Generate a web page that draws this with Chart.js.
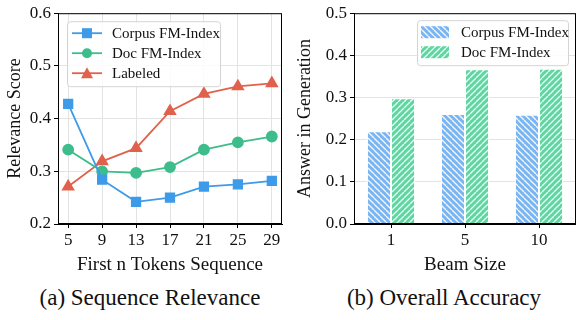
<!DOCTYPE html>
<html lang="en">
<head>
  <meta charset="UTF-8" />
  <title>Sequence Relevance and Overall Accuracy</title>
  <script src="https://cdn.jsdelivr.net/npm/chart.js"></script>
  <style>
    body { margin: 0; background: #fff; width: 576px; height: 320px; position: relative; overflow: hidden; font-family: "Liberation Serif", serif; }
    .panel { position: absolute; top: 0; height: 280px; }
    .caption { position: absolute; top: 285px; font-size: 23px; text-align: center; color: #111; }
  </style>
</head>
<body>
  <div class="panel" style="left:0; width:290px;"><canvas id="relChart"></canvas></div>
  <div class="panel" style="left:290px; width:286px;"><canvas id="accChart"></canvas></div>
  <div class="caption" style="left:0; width:300px;">(a) Sequence Relevance</div>
  <div class="caption" style="left:290px; width:308px;">(b) Overall Accuracy</div>

  <script>
    // left panel: relevance vs first n tokens
    const tokenSteps = [5, 9, 13, 17, 21, 25, 29];
    const corpusRel = [0.428, 0.284, 0.242, 0.250, 0.271, 0.275, 0.282];
    const docRel = [0.341, 0.300, 0.297, 0.308, 0.341, 0.355, 0.366];
    const labeledRel = [0.271, 0.319, 0.344, 0.414, 0.447, 0.461, 0.467];

    // right panel: answer in generation vs beam size
    const beamSizes = ["1", "5", "10"];
    const corpusAcc = [0.220, 0.261, 0.259];
    const docAcc = [0.298, 0.367, 0.368];

    const FONT = "'Liberation Serif', 'Times New Roman', Times, serif";
    const BLUE = "#3d9be9", GREEN = "#3dbd8c", RED = "#e0624c";

    Chart.defaults.font.family = FONT;
    Chart.defaults.color = "#111";
    Chart.defaults.animation = false;

    function hatch(base, dir) {
      const s = 6;
      const c = document.createElement("canvas");
      c.width = s; c.height = s;
      const g = c.getContext("2d");
      g.fillStyle = base;
      g.fillRect(0, 0, s, s);
      g.strokeStyle = "rgba(255,255,255,0.9)";
      g.lineWidth = 1.3;
      for (let k = -1; k <= 1; k++) {
        g.beginPath();
        if (dir === "\\") { g.moveTo(k * s, 0); g.lineTo(k * s + s, s); }
        else { g.moveTo(k * s, s); g.lineTo(k * s + s, 0); }
        g.stroke();
      }
      return g.createPattern(c, "repeat");
    }

    const boxPlugin = {
      id: "box",
      afterDraw(chart) {
        const { ctx, chartArea: a } = chart;
        ctx.save();
        ctx.strokeStyle = "#000";
        ctx.lineWidth = 1;
        ctx.strokeRect(a.left + 0.5, a.top + 0.5, a.right - a.left - 1, a.bottom - a.top - 1);
        ctx.restore();
      }
    };

    // legend box drawn inside the plot area
    function legendPlugin(items, opt) {
      return {
        id: "innerLegend",
        afterDraw(chart) {
          const { ctx, chartArea: a } = chart;
          const x0 = opt.right ? a.right - opt.dx - opt.w : a.left + opt.dx;
          const y0 = a.top + opt.dy;
          ctx.save();
          ctx.fillStyle = "rgba(255,255,255,0.85)";
          ctx.strokeStyle = "#d4d4d4";
          ctx.lineWidth = 1;
          ctx.beginPath();
          ctx.roundRect(x0 + 0.5, y0 + 0.5, opt.w, opt.h, 3);
          ctx.fill(); ctx.stroke();
          ctx.font = "15px " + FONT;
          ctx.textBaseline = "middle";
          items.forEach((it, i) => {
            const y = y0 + 12 + i * 20;
            if (it.type === "line") {
              ctx.strokeStyle = it.color; ctx.lineWidth = 1.8;
              ctx.beginPath(); ctx.moveTo(x0 + 5, y); ctx.lineTo(x0 + 35, y); ctx.stroke();
              ctx.fillStyle = it.color;
              const cx = x0 + 20;
              ctx.beginPath();
              if (it.marker === "rect") ctx.rect(cx - 5, y - 5, 10, 10);
              else if (it.marker === "circle") ctx.arc(cx, y, 5, 0, Math.PI * 2);
              else { ctx.moveTo(cx, y - 6); ctx.lineTo(cx + 6, y + 5); ctx.lineTo(cx - 6, y + 5); ctx.closePath(); }
              ctx.fill();
            } else {
              ctx.fillStyle = it.pattern;
              ctx.fillRect(x0 + 4, y - 6, 28, 12);
            }
            ctx.fillStyle = "#111";
            ctx.fillText(it.label, x0 + opt.tx, y + 1);
          });
          ctx.restore();
        }
      };
    }

    const grid = { color: "#e3e3e3", tickColor: "#000", tickLength: 4, lineWidth: 1 };

    function drawCharts() {
      new Chart(document.getElementById("relChart"), {
        type: "line",
        data: {
          datasets: [
            { label: "Corpus FM-Index", data: tokenSteps.map((x, i) => ({ x, y: corpusRel[i] })), borderColor: BLUE, backgroundColor: BLUE, pointStyle: "rect", pointRadius: 6, borderWidth: 1.8 },
            { label: "Doc FM-Index", data: tokenSteps.map((x, i) => ({ x, y: docRel[i] })), borderColor: GREEN, backgroundColor: GREEN, pointStyle: "circle", pointRadius: 5, borderWidth: 1.8 },
            { label: "Labeled", data: tokenSteps.map((x, i) => ({ x, y: labeledRel[i] })), borderColor: RED, backgroundColor: RED, pointStyle: "triangle", pointRadius: 6, borderWidth: 1.8 }
          ]
        },
        options: {
          responsive: true,
          maintainAspectRatio: false,
          layout: { padding: { top: 5, right: 8, left: 0, bottom: 0 } },
          plugins: { legend: { display: false }, tooltip: { enabled: false } },
          scales: {
            x: {
              type: "linear", min: 3.8, max: 30.2,
              afterBuildTicks: s => { s.ticks = tokenSteps.map(v => ({ value: v })); },
              afterFit: s => { s.height = 56; },
              grid, border: { color: "#000" },
              ticks: { font: { size: 17 }, padding: 2, maxRotation: 0 },
              title: { display: true, text: "First n Tokens Sequence", font: { size: 19 }, padding: { top: 0 } }
            },
            y: {
              min: 0.2, max: 0.6,
              afterFit: s => { s.width = 58; },
              grid, border: { color: "#000" },
              ticks: { stepSize: 0.1, font: { size: 17 }, padding: 3, callback: v => v.toFixed(1) },
              title: { display: true, text: "Relevance Score", font: { size: 18 }, padding: { bottom: 2 } }
            }
          }
        },
        plugins: [boxPlugin, legendPlugin([
          { type: "line", color: BLUE, marker: "rect", label: "Corpus FM-Index" },
          { type: "line", color: GREEN, marker: "circle", label: "Doc FM-Index" },
          { type: "line", color: RED, marker: "tri", label: "Labeled" }
        ], { dx: 9, dy: 8, w: 153, h: 65, tx: 45 })]
      });

      const bluePat = hatch("#78b6f3", "\\");
      const greenPat = hatch("#5fd6a2", "/");

      new Chart(document.getElementById("accChart"), {
        type: "bar",
        data: {
          labels: beamSizes,
          datasets: [
            { label: "Corpus FM-Index", data: corpusAcc, backgroundColor: bluePat, borderColor: "#fff", borderWidth: 1 },
            { label: "Doc FM-Index", data: docAcc, backgroundColor: greenPat, borderColor: "#fff", borderWidth: 1 }
          ]
        },
        options: {
          responsive: true,
          maintainAspectRatio: false,
          layout: { padding: { top: 5, right: 0, left: 0, bottom: 0 } },
          datasets: { bar: { categoryPercentage: 0.65, barPercentage: 1.0 } },
          plugins: { legend: { display: false }, tooltip: { enabled: false } },
          scales: {
            x: {
              afterFit: s => { s.height = 56; },
              grid: { display: true, drawOnChartArea: false, offset: false, tickColor: "#000", tickLength: 4 },
              border: { color: "#000" },
              ticks: { font: { size: 17 }, padding: 2 },
              title: { display: true, text: "Beam Size", font: { size: 19 }, padding: { top: 0 } }
            },
            y: {
              min: 0, max: 0.5,
              afterFit: s => { s.width = 64; },
              grid, border: { color: "#000" },
              ticks: { stepSize: 0.1, font: { size: 17 }, padding: 3, callback: v => v.toFixed(1) },
              title: { display: true, text: "Answer in Generation", font: { size: 18 }, padding: { bottom: 2 } }
            }
          }
        },
        plugins: [boxPlugin, legendPlugin([
          { type: "bar", pattern: bluePat, label: "Corpus FM-Index" },
          { type: "bar", pattern: greenPat, label: "Doc FM-Index" }
        ], { right: true, dx: 8, dy: 7, w: 151, h: 45, tx: 44 })]
      });
    }

    drawCharts();
  </script>
</body>
</html>
